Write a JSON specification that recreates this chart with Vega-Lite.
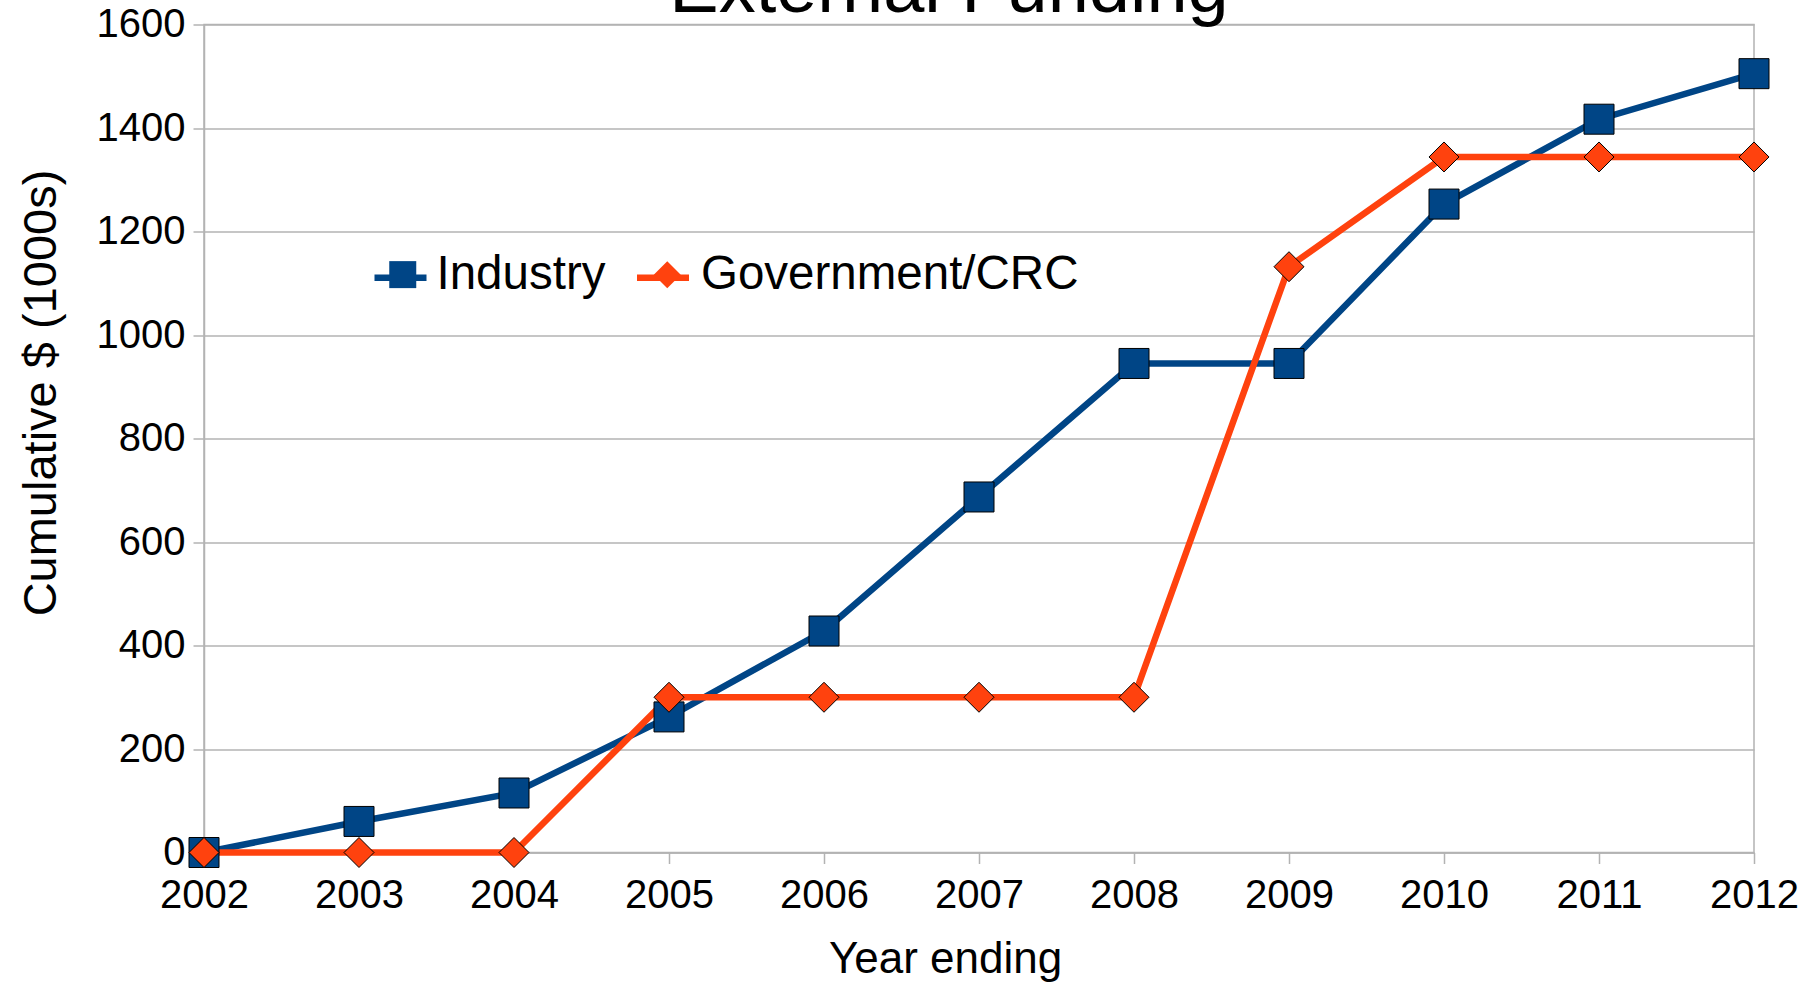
{
  "$schema": "https://vega.github.io/schema/vega-lite/v6.json",
  "width": 1550,
  "height": 828,
  "autosize": {"type": "none"},
  "padding": {"left": 204, "top": 24.5, "right": 60, "bottom": 136.5},
  "background": "white",
  "config": {
    "font": "Liberation Sans",
    "view": {"stroke": "#b3b3b3", "strokeWidth": 1.5}
  },
  "title": {
    "text": "External Funding",
    "fontSize": 74,
    "fontWeight": "normal",
    "font": "Liberation Sans",
    "color": "black",
    "anchor": "middle",
    "frame": "group",
    "dx": -30,
    "baseline": "alphabetic",
    "offset": -81
  },
  "data": {
    "values": [
      {"year": 2002, "series": "Industry", "value": 0},
      {"year": 2003, "series": "Industry", "value": 60},
      {"year": 2004, "series": "Industry", "value": 115},
      {"year": 2005, "series": "Industry", "value": 262},
      {"year": 2006, "series": "Industry", "value": 428},
      {"year": 2007, "series": "Industry", "value": 687},
      {"year": 2008, "series": "Industry", "value": 945},
      {"year": 2009, "series": "Industry", "value": 945},
      {"year": 2010, "series": "Industry", "value": 1253},
      {"year": 2011, "series": "Industry", "value": 1417},
      {"year": 2012, "series": "Industry", "value": 1505},
      {"year": 2002, "series": "Government/CRC", "value": 0},
      {"year": 2003, "series": "Government/CRC", "value": 0},
      {"year": 2004, "series": "Government/CRC", "value": 0},
      {"year": 2005, "series": "Government/CRC", "value": 300},
      {"year": 2006, "series": "Government/CRC", "value": 300},
      {"year": 2007, "series": "Government/CRC", "value": 300},
      {"year": 2008, "series": "Government/CRC", "value": 300},
      {"year": 2009, "series": "Government/CRC", "value": 1132},
      {"year": 2010, "series": "Government/CRC", "value": 1344},
      {"year": 2011, "series": "Government/CRC", "value": 1344},
      {"year": 2012, "series": "Government/CRC", "value": 1344}
    ]
  },
  "encoding": {
    "x": {
      "field": "year",
      "type": "quantitative",
      "scale": {"domain": [2002, 2012], "nice": false, "zero": false},
      "axis": {
        "title": "Year ending",
        "titleFontSize": 44,
        "titleFontWeight": "normal",
        "titleColor": "black",
        "titlePadding": 22,
        "titleX": 741,
        "labelFontSize": 40,
        "labelColor": "black",
        "labelPadding": 12,
        "labelFlush": false,
        "labelOverlap": false,
        "format": "d",
        "values": [2002, 2003, 2004, 2005, 2006, 2007, 2008, 2009, 2010, 2011, 2012],
        "tickSize": 11,
        "tickColor": "#b3b3b3",
        "tickWidth": 1.5,
        "domainColor": "#b3b3b3",
        "domainWidth": 1.5,
        "grid": false
      }
    },
    "y": {
      "field": "value",
      "type": "quantitative",
      "scale": {"domain": [0, 1600], "nice": false},
      "axis": {
        "title": "Cumulative $ (1000s)",
        "titleFontSize": 47,
        "titleFontWeight": "normal",
        "titleColor": "black",
        "titlePadding": 31,
        "titleY": 368,
        "labelFontSize": 40,
        "labelColor": "black",
        "labelPadding": 8,
        "labelFlush": false,
        "labelOverlap": false,
        "format": "d",
        "values": [0, 200, 400, 600, 800, 1000, 1200, 1400, 1600],
        "tickSize": 11,
        "tickColor": "#b3b3b3",
        "tickWidth": 1.5,
        "domainColor": "#b3b3b3",
        "domainWidth": 1.5,
        "grid": true,
        "gridColor": "#b3b3b3",
        "gridWidth": 1.5
      }
    }
  },
  "layer": [
    {
      "mark": {"type": "line", "strokeWidth": 6.5},
      "encoding": {
        "color": {
          "field": "series",
          "type": "nominal",
          "sort": "descending",
          "scale": {"range": ["#004586", "#ff420e"]},
          "legend": {
            "orient": "none",
            "legendX": 167,
            "legendY": 223.5,
            "direction": "horizontal",
            "title": null,
            "padding": 0,
            "symbolType": "stroke",
            "symbolStrokeWidth": 6.5,
            "symbolSize": 2704,
            "labelExpr": "''",
            "labelFontSize": 47,
            "labelOffset": 0,
            "columnPadding": 183.5
          }
        }
      }
    },
    {
      "transform": [{"calculate": "datum.series", "as": "marker"}],
      "mark": {"type": "point", "filled": true, "stroke": "black", "strokeWidth": 1, "opacity": 1, "size": 900},
      "encoding": {
        "fill": {
          "field": "marker",
          "type": "nominal",
          "scale": {"domain": ["Industry", "Government/CRC"], "range": ["#004586", "#ff420e"]},
          "legend": {
            "orient": "none",
            "legendX": 175,
            "legendY": 226,
            "direction": "horizontal",
            "title": null,
            "padding": 0,
            "symbolSize": 729,
            "symbolStrokeColor": "black",
            "symbolStrokeWidth": 1,
            "symbolOpacity": 1,
            "labelFontSize": 47.5,
            "labelLimit": 1000,
            "labelColor": "black",
            "labelOffset": 10,
            "columnPadding": 37.5
          }
        },
        "shape": {
          "field": "marker",
          "type": "nominal",
          "scale": {"domain": ["Industry", "Government/CRC"], "range": ["square", "diamond"]},
          "legend": {
            "orient": "none",
            "legendX": 175,
            "legendY": 226,
            "direction": "horizontal",
            "title": null,
            "padding": 0,
            "symbolSize": 729,
            "symbolStrokeColor": "black",
            "symbolStrokeWidth": 1,
            "symbolOpacity": 1,
            "labelFontSize": 47.5,
            "labelLimit": 1000,
            "labelColor": "black",
            "labelOffset": 10,
            "columnPadding": 37.5
          }
        }
      }
    }
  ]
}
